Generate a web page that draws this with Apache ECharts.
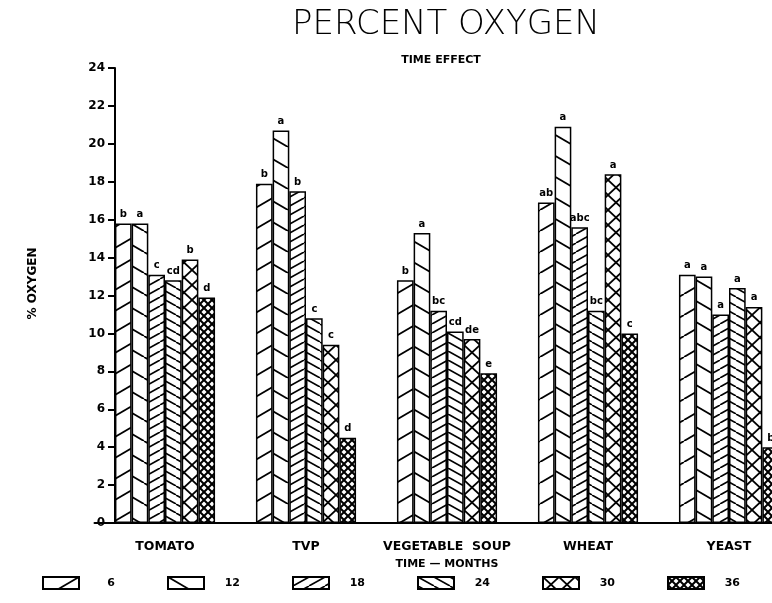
<!DOCTYPE html>
<html>
<head>
<meta charset="utf-8">
<script src="https://cdn.jsdelivr.net/npm/echarts/dist/echarts.min.js"></script>
<style>
  html, body { margin: 0; padding: 0; background: #fff; }
  #main { width: 772px; height: 603px; }
</style>
</head>
<body>
<div id="main"></div>
<script>
// categories and months
var categories = ['TOMATO', 'TVP', 'VEGETABLE  SOUP', 'WHEAT', 'YEAST'];
var months = ['6', '12', '18', '24', '30', '36'];

// % oxygen per month
var m6  = [15.8, 17.9, 12.8, 16.9, 13.1];
var m12 = [15.8, 20.7, 15.3, 20.9, 13.0];
var m18 = [13.1, 17.5, 11.2, 15.6, 11.0];
var m24 = [12.8, 10.8, 10.1, 11.2, 12.4];
var m30 = [13.9, 9.4, 9.7, 18.4, 11.4];
var m36 = [11.9, 4.5, 7.9, 10.0, 4.0];

// significance letters above the bars
var l6  = ['b', 'b', 'b', 'ab', 'a'];
var l12 = ['a', 'a', 'a', 'a', 'a'];
var l18 = ['c', 'b', 'bc', 'abc', 'a'];
var l24 = ['cd', 'c', 'cd', 'bc', 'a'];
var l30 = ['b', 'c', 'de', 'a', 'a'];
var l36 = ['d', 'd', 'e', 'c', 'b'];

// hatch fills
function makePattern(w, h, lw, draw) {
    var c = document.createElement('canvas');
    c.width = w; c.height = h;
    var ctx = c.getContext('2d');
    ctx.fillStyle = '#fff';
    ctx.fillRect(0, 0, w, h);
    ctx.strokeStyle = '#000';
    ctx.lineWidth = lw;
    draw(ctx, w, h);
    return {image: c, repeat: 'repeat'};
}
function up(ctx, w, h) {
    [-w, 0, w].forEach(function (dx) {
        ctx.beginPath(); ctx.moveTo(dx, h); ctx.lineTo(dx + w, 0); ctx.stroke();
    });
}
function down(ctx, w, h) {
    [-w, 0, w].forEach(function (dx) {
        ctx.beginPath(); ctx.moveTo(dx, 0); ctx.lineTo(dx + w, h); ctx.stroke();
    });
}
function cross(ctx, w, h) { up(ctx, w, h); down(ctx, w, h); }

var fills = [
    makePattern(36, 21, 1.8, up),
    makePattern(36, 21, 1.8, down),
    makePattern(16, 9, 1.6, up),
    makePattern(16, 9, 1.6, down),
    makePattern(16, 15, 1.8, cross),
    makePattern(8, 8, 2, cross)
];

var values = [m6, m12, m18, m24, m30, m36];
var letters = [l6, l12, l18, l24, l30, l36];

var font = 'DejaVu Sans';

var series = [];
for (var i = 0; i < months.length; i++) {
    (function (k) {
        series.push({
            name: months[k],
            type: 'bar',
            data: values[k],
            barGap: '0%',
            barCategoryGap: '29%',
            itemStyle: {color: fills[k], borderColor: '#000', borderWidth: 1.5},
            label: {
                show: true,
                position: 'top',
                distance: 4,
                formatter: function (p) { return letters[k][p.dataIndex]; },
                color: '#000',
                fontFamily: font,
                fontWeight: 'bold',
                fontSize: 10
            }
        });
    })(i);
}

var myChart = echarts.init(document.getElementById('main'));

var option = {
    backgroundColor: '#fff',
    animation: false,
    title: [
        {
            text: 'PERCENT OXYGEN',
            left: 441,
            top: 3,
            textAlign: 'center',
            textStyle: {fontFamily: font, fontWeight: 200, fontSize: 34, color: '#000'}
        },
        {
            text: 'TIME EFFECT',
            left: 436,
            top: 50,
            textAlign: 'center',
            textStyle: {fontFamily: font, fontWeight: 'bold', fontSize: 11, color: '#000'}
        }
    ],
    legend: {
        data: months,
        left: 37,
        top: 571,
        itemWidth: 36,
        itemHeight: 12,
        itemGap: 52,
        icon: 'rect',
        formatter: function (name) { return '{n|' + name + '}'; },
        textStyle: {
            color: '#000',
            fontFamily: font,
            fontWeight: 'bold',
            fontSize: 11,
            rich: {n: {width: 31, align: 'right', fontFamily: font, fontWeight: 'bold', fontSize: 11, color: '#000'}}
        }
    },
    grid: [
        {left: 94.5, right: -27.5, top: 68, bottom: 80, outerBoundsMode: 'none'},
        {left: 113, right: 0, top: 68, bottom: 80, outerBoundsMode: 'none'}
    ],
    xAxis: [
        {
            type: 'category',
            data: categories,
            gridIndex: 0,
            axisLine: {lineStyle: {color: '#000', width: 2}},
            axisTick: {alignWithLabel: true, length: 6, lineStyle: {color: '#000', width: 1.5}},
            axisLabel: {color: '#000', fontFamily: font, fontWeight: 'bold', fontSize: 12.5, margin: 17, interval: 0},
            name: 'TIME — MONTHS',
            nameLocation: 'middle',
            nameGap: 36,
            nameTextStyle: {color: '#000', fontFamily: font, fontWeight: 'bold', fontSize: 11}
        },
        {
            type: 'value',
            gridIndex: 1,
            position: 'top',
            min: 0,
            max: 1,
            axisLine: {show: true, lineStyle: {color: '#000', width: 2}},
            axisTick: {show: false},
            axisLabel: {show: false},
            splitLine: {show: false}
        }
    ],
    yAxis: [
        {
            type: 'value',
            gridIndex: 0,
            min: 0,
            max: 24,
            interval: 2,
            offset: -20.5,
            axisLine: {show: true, lineStyle: {color: '#000', width: 2}},
            axisTick: {show: true, length: 7, lineStyle: {color: '#000', width: 2}},
            axisLabel: {color: '#000', fontFamily: font, fontWeight: 'bold', fontSize: 12, margin: 10},
            splitLine: {show: false},
            name: '% OXYGEN',
            nameLocation: 'middle',
            nameGap: 76,
            nameRotate: 90,
            nameTextStyle: {color: '#000', fontFamily: font, fontWeight: 'bold', fontSize: 12, padding: [0, 0, 0, 24]}
        },
        {
            type: 'value',
            gridIndex: 1,
            min: 0,
            max: 1,
            show: false
        }
    ],
    series: series
};

myChart.setOption(option);
</script>
</body>
</html>
